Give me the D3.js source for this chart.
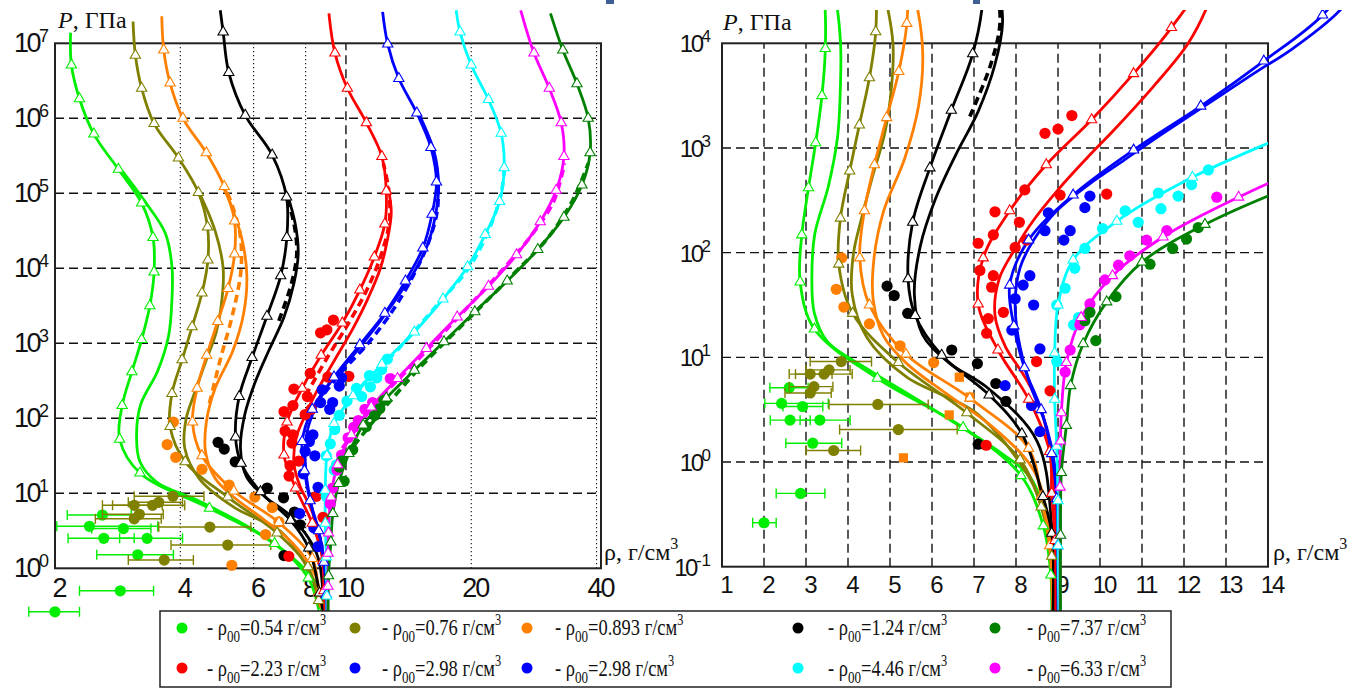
<!DOCTYPE html>
<html>
<head>
<meta charset="utf-8">
<script src="https://cdn.jsdelivr.net/npm/d3@7"></script>
<style>
  body { margin: 0; background: #fff; }
  svg { display: block; }
</style>
</head>
<body>
<div id="chart"></div>
<script>
// every curve / point: [rho (g/cm3), lg P (GPa)], low P first
// A = curve with triangles, B = plain curve, C = dashed curve

// rho00 = 0.54
var green054A = [[8.86,-1.45],[8.83,-1.08],[8.65,-0.61],[8.12,-0.13],[6.74,0.33],[4.70,0.80],[3.20,1.27],[2.86,1.72],[2.90,2.17],[3.06,2.62],[3.23,3.05],[3.38,3.50],[3.46,3.95],[3.44,4.41],[3.23,4.87],[2.84,5.32],[2.48,5.79],[2.29,6.26],[2.19,6.71],[2.18,7.14]];
var green054B = [[8.86,-1.45],[8.81,-0.87],[8.64,-0.43],[8.33,-0.14],[7.7,0.07],[6.0,0.51],[4.46,0.89],[3.51,1.15],[3.2,1.42],[3.14,1.74],[3.21,2.18],[3.53,2.63],[3.75,3.1],[3.82,3.6],[3.82,4.02],[3.68,4.47],[3.3,4.88],[2.9,5.3]];
var green054Pts = [[2.60,0.71],[2.42,0.56],[2.92,0.53],[2.62,0.40],[3.33,0.40],[3.16,0.18],[2.87,-0.30],[2.0,-0.58]];
var green054Err = [[2.14,3.05],[2.02,3.53],[2.45,3.4],[2.15,3.1],[2.86,4.05],[2.52,3.85],[2.29,3.45],[1.73,2.29]];

// rho00 = 0.76
var olive076A = [[8.87,-1.45],[8.85,-0.9],[8.6,-0.43],[8.1,0.02],[6.83,0.47],[5.2,0.95],[4.11,1.42],[3.78,1.89],[3.82,2.33],[4.04,2.78],[4.27,3.22],[4.51,3.67],[4.66,4.11],[4.65,4.55],[4.42,5.01],[3.96,5.47],[3.46,5.93],[3.23,6.40],[3.12,6.84],[3.08,7.29]];
var olive076B = [[8.88,-1.45],[8.8,-0.8],[8.5,-0.3],[7.9,0.1],[6.98,0.49],[5.4,0.81],[4.45,1.19],[4.1,1.6],[4.13,1.99],[4.33,2.34],[4.6,2.75],[4.88,3.15],[5.04,3.6],[5.07,4.0],[4.85,4.5],[4.45,5.0]];
var olive076Pts = [[3.84,0.96],[3.10,0.84],[3.43,0.84],[3.55,0.88],[3.19,0.72],[3.10,0.66],[4.71,0.55],[5.20,0.31],[3.66,0.11]];
var olive076Err = [[3.10,4.56],[2.6,3.62],[2.75,4.1],[3.0,4.05],[2.6,3.64],[2.5,3.6],[3.55,5.91],[3.8,6.6],[3.0,4.3]];

// rho00 = 0.893
var orange0893A = [[8.87,-1.45],[8.8,-0.8],[8.6,-0.33],[8.30,0.13],[6.90,0.61],[5.38,1.03],[4.51,1.50],[4.28,1.95],[4.39,2.40],[4.63,2.84],[4.92,3.29],[5.21,3.73],[5.40,4.19],[5.40,4.63],[5.10,5.09],[4.62,5.54],[4.06,6.0],[3.78,6.47],[3.65,6.91],[3.61,7.36]];
var orange0893B = [[8.88,-1.45],[8.8,-0.7],[8.45,-0.1],[7.46,0.33],[6.35,0.65],[5.4,0.94],[4.85,1.2],[4.6,1.55],[4.62,1.95],[4.85,2.4],[5.35,2.9],[5.68,3.4],[5.78,3.9],[5.62,4.4],[5.2,4.95],[5.05,5.1]];
var orange0893C = [[4.7,2.2],[5.0,2.8],[5.35,3.4],[5.6,4.0],[5.55,4.5],[5.2,5.0]];
var orange0893Pts = [[3.85,1.95],[3.72,1.65],[3.90,1.48],[4.51,1.32],[5.24,1.11],[6.04,0.95]];
var orange0893Sq = [[6.65,0.81],[6.90,0.62],[6.41,0.45],[5.32,0.04]];

// rho00 = 1.24
var black124A = [[8.88,-1.45],[8.85,-0.68],[8.64,-0.33],[8.14,0.27],[7.36,0.64],[6.23,1.02],[5.60,1.40],[5.43,1.75],[5.54,2.29],[5.95,2.81],[6.46,3.36],[6.97,3.90],[7.21,4.41],[7.20,4.95],[6.65,5.51],[5.73,6.04],[5.23,6.61],[5.07,7.15],[4.99,7.44]];
var black124B = [[8.9,-1.45],[8.85,-0.6],[8.5,0.2],[7.35,0.7],[6.4,0.95],[5.77,1.22],[5.58,1.6],[5.72,2.06],[6.07,2.5],[6.56,2.93],[7.1,3.35],[7.5,3.8],[7.68,4.2],[7.55,4.6],[7.22,5.0]];
var black124C = [[6.9,3.3],[7.4,3.8],[7.62,4.2],[7.5,4.6],[7.2,4.95]];
var black124Pts = [[4.93,1.68],[5.10,1.59],[5.42,1.42],[6.47,1.07],[7.08,0.94],[7.52,0.75],[7.76,0.58],[7.10,0.17]];

// rho00 = 2.23
var red223A = [[8.95,-1.45],[8.93,-0.75],[8.85,-0.3],[8.80,0.10],[8.3,0.60],[7.57,1.07],[7.1,1.51],[7.22,1.95],[7.85,2.40],[8.72,2.84],[9.8,3.27],[10.8,3.71],[11.7,4.15],[12.4,4.59],[12.5,5.03],[12.2,5.49],[11.2,5.94],[10.08,6.40],[9.41,6.87],[9.10,7.40]];
var red223B = [[8.95,-1.45],[8.93,-0.37],[8.81,0.11],[8.6,0.5],[8.2,0.82],[7.75,1.1],[7.5,1.4],[7.6,1.75],[8.0,2.05],[8.4,2.3],[9.0,2.6],[9.68,2.9],[10.4,3.2],[11.3,3.6],[12.1,4.0],[12.6,4.4],[12.85,4.75],[12.6,5.1]];
var red223C = [[8.0,2.3],[9.0,2.8],[10.1,3.25],[11.2,3.7],[12.1,4.15],[12.7,4.6],[12.7,5.0],[12.3,5.4]];
var red223Pts = [[8.69,3.14],[9.0,3.18],[9.33,3.31],[8.21,2.60],[9.05,2.55],[10.16,2.56],[7.5,2.39],[8.08,2.29],[7.46,2.17],[8.25,2.12],[7.98,2.05],[7.10,2.09],[7.14,1.83],[7.46,1.78],[7.42,1.67],[7.70,1.43],[7.34,1.37],[7.30,1.23],[8.49,0.96],[8.81,0.68],[7.29,0.16]];

// rho00 = 2.98
var blue298A = [[9.0,-1.45],[8.99,-0.8],[8.97,-0.35],[8.85,0.08],[8.6,0.5],[8.2,0.9],[7.95,1.3],[7.85,1.69],[8.3,2.12],[9.36,2.55],[10.8,2.98],[12.4,3.40],[13.9,3.83],[15.3,4.27],[16.1,4.72],[16.5,5.15],[16.0,5.61],[14.8,6.07],[13.4,6.53],[12.6,6.99],[12.25,7.42]];
var blue298B = [[9.02,-1.45],[9.0,-0.53],[8.93,-0.05],[8.73,0.33],[8.33,0.75],[8.05,1.2],[7.98,1.54],[8.10,1.86],[8.42,2.12],[8.97,2.40],[9.76,2.66],[10.56,2.88],[11.35,3.10],[12.14,3.31],[12.94,3.52],[13.73,3.73],[14.52,3.93],[15.7,4.31],[16.4,4.7],[16.7,5.1],[16.3,5.55],[15.0,6.05]];
var blue298C = [[8.5,2.2],[9.7,2.6],[11.3,3.0],[13.0,3.45],[14.5,3.9],[15.8,4.35],[16.6,4.8],[16.6,5.2]];
var blue298Pts = [[8.77,2.38],[8.69,2.21],[9.29,2.21],[9.76,2.54],[9.64,2.43],[9.14,2.12],[8.33,1.78],[8.17,1.69],[7.98,1.56],[8.42,1.50],[7.90,1.26],[8.57,1.08],[7.74,0.73],[8.37,0.54],[8.57,0.29]];

// rho00 = 4.46
var cyan446A = [[9.02,-1.45],[9.0,-0.8],[9.0,-0.37],[8.97,0.15],[8.92,0.6],[8.92,1.04],[9.0,1.5],[9.36,1.93],[10.4,2.3],[12.2,2.72],[14.6,3.15],[17.1,3.59],[19.6,4.02],[21.6,4.45],[23.4,4.89],[24.0,5.34],[23.6,5.80],[22.0,6.25],[20.0,6.71],[18.8,7.15],[18.4,7.44]];
var cyan446C = [[9.5,2.0],[11.0,2.45],[13.5,2.95],[16.5,3.5],[19.7,4.0],[22.0,4.5],[23.6,5.0],[24.1,5.4]];
var cyan446Pts = [[12.58,2.79],[12.18,2.65],[11.86,2.54],[11.45,2.42],[11.39,2.57],[10.6,2.40],[10.91,2.29],[10.06,2.23],[9.64,2.04],[9.40,1.85],[9.17,1.66],[8.97,1.50],[9.37,1.31],[9.49,1.38],[8.97,0.96]];

// rho00 = 6.33
var magenta633A = [[9.05,-1.45],[9.05,-0.7],[9.05,-0.24],[9.06,0.2],[9.08,0.47],[9.2,0.95],[9.55,1.38],[10.3,1.78],[11.5,2.15],[13.3,2.53],[15.6,2.93],[18.5,3.35],[22.0,3.76],[25.7,4.18],[29.3,4.62],[32.0,5.04],[33.4,5.49],[32.9,5.94],[30.8,6.40],[28.3,6.87],[26.3,7.44]];
var magenta633C = [[9.8,1.6],[11.8,2.2],[15.0,2.8],[19.0,3.4],[23.5,3.95],[28.0,4.45],[31.6,4.9],[33.5,5.4]];
var magenta633Pts = [[12.78,2.53],[11.59,2.21],[11.11,2.12],[10.71,1.97],[10.44,1.88],[10.12,1.74],[9.76,1.51],[9.52,1.31],[9.29,1.07],[9.17,0.86]];

// rho00 = 7.37
var dkgreen737A = [[9.06,-1.45],[9.06,-0.7],[9.08,-0.1],[9.2,0.35],[9.3,0.73],[9.6,1.13],[10.16,1.53],[11.0,1.91],[12.5,2.27],[14.6,2.64],[17.2,3.02],[20.4,3.42],[24.4,3.83],[28.9,4.25],[33.4,4.68],[36.9,5.11],[38.6,5.54],[38.2,6.0],[35.9,6.46],[33.2,6.91],[31.0,7.40]];
var dkgreen737C = [[10.0,1.5],[12.0,2.05],[15.2,2.7],[19.5,3.3],[25.0,3.9],[30.5,4.4],[35.0,4.9],[38.2,5.4]];
var dkgreen737Pts = [[12.34,2.24],[12.06,2.13],[11.73,2.04],[11.19,1.89],[10.38,1.58],[9.76,1.43],[9.64,1.35],[9.90,1.16]];

// ticks
var leftXTicks = [2, 4, 6, 8, 10, 20, 40];
var leftXDotted = [4, 6, 8, 20, 40];
var leftXDashed = [10];
var leftYExp = [0, 1, 2, 3, 4, 5, 6, 7];
var rightXTicks = [1, 2, 3, 4, 5, 6, 7, 8, 9, 10, 11, 12, 13, 14];
var rightYExp = [-1, 0, 1, 2, 3, 4];

// legend (two rows of five)
var legendRho = ["0.54", "0.76", "0.893", "1.24", "7.37", "2.23", "2.98", "2.98", "4.46", "6.33"];
var legendColor = ["#00ee00", "#808000", "#ff8000", "#000000", "#008000", "#ff0000", "#0000ff", "#0000ff", "#00ffff", "#ff00ff"];

// bothDash: the dashed curve also shows in the right panel
var seriesList = [
    {color: "#00ee00", lines: [green054A, green054B], pts: green054Pts, err: green054Err},
    {color: "#808000", lines: [olive076A, olive076B], pts: olive076Pts, err: olive076Err},
    {color: "#ff8000", lines: [orange0893A, orange0893B], dashed: orange0893C, pts: orange0893Pts, sq: orange0893Sq},
    {color: "#000000", lines: [black124A, black124B], dashed: black124C, bothDash: true, pts: black124Pts},
    {color: "#ff0000", lines: [red223A, red223B], dashed: red223C, pts: red223Pts},
    {color: "#0000ff", lines: [blue298A, blue298B], dashed: blue298C, pts: blue298Pts},
    {color: "#00ffff", lines: [cyan446A], dashed: cyan446C, pts: cyan446Pts, cut: true},
    {color: "#ff00ff", lines: [magenta633A], dashed: magenta633C, pts: magenta633Pts, cut: true},
    {color: "#008000", lines: [dkgreen737A], dashed: dkgreen737C, pts: dkgreen737Pts, cut: true}
];

var svgWidth = 1349;
var svgHeight = 688;
var sans = "'Liberation Sans', Arial, sans-serif";
var serif = "'Liberation Serif', 'Times New Roman', serif";

var svg = d3.select("#chart")
    .append("svg")
    .attr("width", svgWidth)
    .attr("height", svgHeight);

var defs = svg.append("defs");
function addClip(id, x, y, w, h) {
    defs.append("clipPath").attr("id", id)
        .append("rect").attr("x", x).attr("y", y).attr("width", w).attr("height", h);
}
addClip("clipL", 0, 8, 645, 680);
addClip("clipR", 722, 10, 627, 678);
addClip("clipR14", 722, 10, 546, 678);

// slide remnants at the very top
svg.append("rect").attr("x", 606).attr("y", 0).attr("width", 8).attr("height", 4).attr("fill", "#3d5f96");
svg.append("rect").attr("x", 973).attr("y", 0).attr("width", 7).attr("height", 4).attr("fill", "#3d5f96");

var leftPanel = {
    x: d3.scaleLog().domain([2, 41]).range([55, 601]),
    y: d3.scaleLog().domain([1, 1e7]).range([568.3, 43.3]),
    clip: "clipL",
    cut: "clipL",
    labelSize: 27,
    supSize: 18,
    isLeft: true
};
var rightPanel = {
    x: d3.scaleLinear().domain([1, 14]).range([722, 1268]),
    y: d3.scaleLog().domain([0.1, 1e4]).range([566.7, 43.3]),
    clip: "clipR",
    cut: "clipR14",
    labelSize: 24,
    supSize: 17,
    isLeft: false
};

var P = d => Math.pow(10, d[1]);

function gridLine(g, x1, y1, x2, y2, dash, w) {
    g.append("line")
        .attr("x1", x1).attr("y1", y1).attr("x2", x2).attr("y2", y2)
        .attr("stroke", "#111")
        .attr("stroke-width", w)
        .attr("stroke-dasharray", dash);
}

function drawFrame(p, xDotted, xDashed, yExp) {
    var g = svg.append("g");
    var x0 = p.x.range()[0], x1 = p.x.range()[1];
    var y0 = p.y.range()[0], y1 = p.y.range()[1];
    yExp.slice(1, -1).forEach(e => gridLine(g, x0, p.y(Math.pow(10, e)), x1, p.y(Math.pow(10, e)), "9,5", 1.4));
    xDotted.forEach(v => gridLine(g, p.x(v), y0, p.x(v), y1, "1.3,2.7", 1.1));
    xDashed.forEach(v => gridLine(g, p.x(v), y0, p.x(v), y1, "9,5", 1.4));
    g.append("rect")
        .attr("x", x0).attr("y", y1)
        .attr("width", x1 - x0).attr("height", y0 - y1)
        .attr("fill", "none")
        .attr("stroke", "#222")
        .attr("stroke-width", 2);
}

function drawYLabels(p, yExp, xRight) {
    var g = svg.append("g")
        .attr("font-family", sans)
        .attr("fill", "#111");
    yExp.forEach(e => {
        var t = g.append("text")
            .attr("x", xRight)
            .attr("y", p.y(Math.pow(10, e)) + 9)
            .attr("text-anchor", "end")
            .attr("font-size", p.labelSize)
            .attr("letter-spacing", "-2.5px");
        t.append("tspan").text("10");
        t.append("tspan").attr("dy", -10).attr("font-size", p.supSize).attr("letter-spacing", "0px").text(e);
    });
}

function drawXLabels(p, ticks, yBase) {
    svg.append("g")
        .attr("font-family", sans)
        .attr("fill", "#111")
        .selectAll("text")
        .data(ticks)
        .enter()
        .append("text")
        .attr("x", d => p.x(d) + 4)
        .attr("y", yBase)
        .attr("text-anchor", "middle")
        .attr("font-size", p.labelSize)
        .attr("letter-spacing", "-2px")
        .text(d => d);
}

function drawData(p) {
    var line = d3.line()
        .x(d => p.x(d[0]))
        .y(d => p.y(P(d)))
        .curve(d3.curveCatmullRom.alpha(0.5));

    var gl = svg.append("g");
    seriesList.forEach(s => {
        var gs = gl.append("g").attr("clip-path", `url(#${s.cut ? p.cut : p.clip})`);
        s.lines.forEach(c => {
            gs.append("path")
                .attr("d", line(c))
                .attr("fill", "none")
                .attr("stroke", s.color)
                .attr("stroke-width", 2.8)
                .attr("stroke-linejoin", "round");
        });
        if (s.dashed && (p.isLeft || s.bothDash)) {
            gs.append("path")
                .attr("d", line(s.dashed))
                .attr("fill", "none")
                .attr("stroke", s.color)
                .attr("stroke-width", 3.6)
                .attr("stroke-dasharray", "8,5");
        }
    });

    var gp = svg.append("g").attr("clip-path", `url(#${p.clip})`);
    seriesList.forEach(s => {
        if (s.err) {
            s.err.forEach((e, i) => {
                var yy = p.y(P(s.pts[i]));
                gp.append("line")
                    .attr("x1", p.x(e[0])).attr("x2", p.x(e[1]))
                    .attr("y1", yy).attr("y2", yy)
                    .attr("stroke", s.color).attr("stroke-width", 1.4);
                e.forEach(v => {
                    gp.append("line")
                        .attr("x1", p.x(v)).attr("x2", p.x(v))
                        .attr("y1", yy - 5).attr("y2", yy + 5)
                        .attr("stroke", s.color).attr("stroke-width", 1.4);
                });
            });
        }
        gp.selectAll(null)
            .data(s.pts)
            .enter()
            .append("circle")
            .attr("cx", d => p.x(d[0]))
            .attr("cy", d => p.y(P(d)))
            .attr("r", 5.6)
            .attr("fill", s.color);
        if (s.sq) {
            gp.selectAll(null)
                .data(s.sq)
                .enter()
                .append("path")
                .attr("transform", d => `translate(${p.x(d[0])},${p.y(P(d))})`)
                .attr("d", d3.symbol().type(p.isLeft ? d3.symbolCircle : d3.symbolSquare).size(p.isLeft ? 98 : 85)())
                .attr("fill", s.color);
        }
    });

    var tri = d3.symbol().type(d3.symbolTriangle).size(46)();
    seriesList.forEach(s => {
        var gt = svg.append("g").attr("clip-path", `url(#${s.cut ? p.cut : p.clip})`);
        gt.selectAll("path")
            .data(s.lines[0].slice(1, -1))
            .enter()
            .append("path")
            .attr("transform", d => `translate(${p.x(d[0])},${p.y(P(d))})`)
            .attr("d", tri)
            .attr("fill", "#fff")
            .attr("stroke", s.color)
            .attr("stroke-width", 1.1);
    });
}

function axisTitles(xP, yP, xRho, yRho) {
    var t = svg.append("text")
        .attr("x", xP).attr("y", yP)
        .attr("font-family", serif)
        .attr("font-size", 24)
        .attr("fill", "#111");
    t.append("tspan").attr("font-style", "italic").text("P");
    t.append("tspan").text(", ГПа");

    var r = svg.append("text")
        .attr("x", xRho).attr("y", yRho)
        .attr("font-family", serif)
        .attr("font-size", 24)
        .attr("fill", "#111");
    r.append("tspan").text("ρ, г/см");
    r.append("tspan").attr("dy", -11).attr("font-size", 16).text("3");
}

// left: P up to 1e7, rho on a log axis
drawFrame(leftPanel, leftXDotted, leftXDashed, leftYExp);
drawYLabels(leftPanel, leftYExp, 49);
drawXLabels(leftPanel, leftXTicks, 597);
axisTitles(58, 28, 604, 560);
drawData(leftPanel);

// right: low pressure, linear rho
drawFrame(rightPanel, [], rightXTicks.slice(1, -1), rightYExp);
drawYLabels(rightPanel, rightYExp, 711);
drawXLabels(rightPanel, rightXTicks, 593);
axisTitles(723, 30, 1273, 560);
drawData(rightPanel);

// legend
var legend = svg.append("g");
legend.append("rect")
    .attr("x", 160).attr("y", 611)
    .attr("width", 1011).attr("height", 76)
    .attr("fill", "#fff")
    .attr("stroke", "#222")
    .attr("stroke-width", 1.5);

var colDot = [182, 355, 527, 798, 995];
var colText = [207, 382, 555, 828, 1027];
var rowDot = [628, 668];
var rowText = [635, 676];

legendRho.forEach((r, i) => {
    var col = i % 5, row = Math.floor(i / 5);
    legend.append("circle")
        .attr("cx", colDot[col]).attr("cy", rowDot[row])
        .attr("r", 5.5)
        .attr("fill", legendColor[i]);
    // the source font is a narrow serif, so squeeze it horizontally
    var t = legend.append("text")
        .attr("transform", `translate(${colText[col]},${rowText[row]}) scale(0.77,1)`)
        .attr("font-family", serif)
        .attr("font-size", 24)
        .attr("fill", "#111");
    t.append("tspan").text("- ρ");
    t.append("tspan").attr("dy", 7).attr("font-size", 17).text("00");
    t.append("tspan").attr("dy", -7).text("=" + r + " г/см");
    t.append("tspan").attr("dy", -10).attr("font-size", 16).text("3");
});
</script>
</body>
</html>
